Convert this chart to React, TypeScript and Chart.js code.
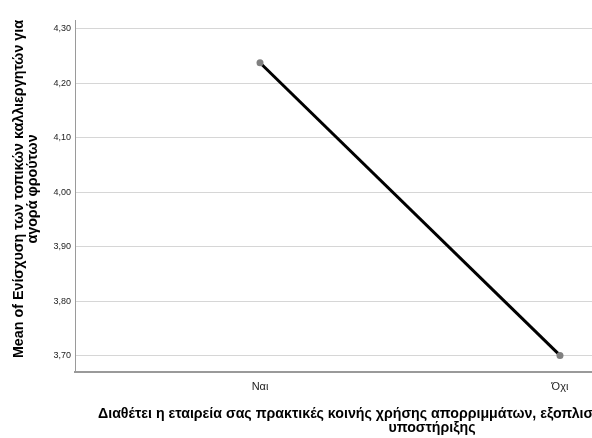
import React, { useEffect, useRef } from "react";
import { Chart, registerables } from "chart.js";

Chart.register(...registerables);

const categories = ["Ναι", "Όχι"];
const meanValues = [4.238, 3.701];
const yTickValues = [3.7, 3.8, 3.9, 4.0, 4.1, 4.2, 4.3];
const yTitleLines = ["Mean of Ενίσχυση των τοπικών καλλιεργητών για", "αγορά φρούτων"];
const xTitleLines = [
  "Διαθέτει η εταιρεία σας πρακτικές κοινής χρήσης απορριμμάτων, εξοπλισμού ή",
  "υποστήριξης",
];

const FONT = "Arial, 'Liberation Sans', sans-serif";

const titlesPlugin = {
  id: "axisTitles",
  afterDraw(chart: any) {
    const ctx = chart.ctx;
    ctx.save();
    ctx.fillStyle = "#000";
    ctx.textBaseline = "middle";
    // x-axis title
    ctx.font = `bold 14.2px ${FONT}`;
    ctx.textAlign = "left";
    ctx.fillText(xTitleLines[0], 98, 414);
    ctx.textAlign = "center";
    ctx.fillText(xTitleLines[1], 432, 428);
    // y-axis title (rotated)
    ctx.font = `bold 14.3px ${FONT}`;
    ctx.translate(0, 189);
    ctx.rotate(-Math.PI / 2);
    ctx.textAlign = "center";
    ctx.fillText(yTitleLines[0], 0, 19);
    ctx.fillText(yTitleLines[1], 0, 33);
    ctx.restore();
  },
};

export default function App() {
  const ref = useRef<HTMLCanvasElement>(null);
  useEffect(() => {
    if (!ref.current) return;
    const chart = new Chart(ref.current, {
      type: "line",
      data: {
        datasets: [
          {
            data: categories.map((c, i) => ({ x: i, y: meanValues[i] })),
            borderColor: "#000",
            borderWidth: 3,
            pointRadius: 3.5,
            pointBackgroundColor: "#808080",
            pointBorderWidth: 0,
            pointHoverRadius: 3.5,
            fill: false,
          },
        ],
      },
      options: {
        animation: false,
        responsive: false,
        devicePixelRatio: 1,
        layout: { autoPadding: false, padding: { top: 20, right: 0, left: 0, bottom: 0 } },
        plugins: { legend: { display: false }, tooltip: { enabled: false } },
        scales: {
          x: {
            type: "linear",
            min: -0.6167,
            max: 1.1067,
            afterBuildTicks: (s: any) => {
              s.ticks = categories.map((_, i) => ({ value: i }));
            },
            afterFit: (s: any) => {
              s.height = 66;
            },
            ticks: {
              callback: (v: any) => categories[v as number] ?? "",
              font: { family: FONT, size: 11 },
              color: "#222",
              padding: 8,
              maxRotation: 0,
            },
            grid: { display: false, drawTicks: false },
            border: { display: true, color: "#9a9a9a", width: 2 },
          },
          y: {
            type: "linear",
            min: 3.6706,
            max: 4.3165,
            afterBuildTicks: (s: any) => {
              s.ticks = yTickValues.map((v) => ({ value: v }));
            },
            afterFit: (s: any) => {
              s.width = 75;
            },
            ticks: {
              callback: (v: any) => Number(v).toFixed(2).replace(".", ","),
              font: { family: FONT, size: 9 },
              color: "#222",
              padding: 4,
            },
            grid: { color: "#d6d6d6", lineWidth: 1, drawTicks: false },
            border: { display: true, color: "#9a9a9a", width: 1 },
          },
        },
      },
      plugins: [titlesPlugin],
    });
    return () => chart.destroy();
  }, []);
  return (
    <div style={{ position: "fixed", left: 0, top: 0, width: 592, height: 438, background: "#fff" }}>
      <canvas ref={ref} width={592} height={438} style={{ width: 592, height: 438 }} />
    </div>
  );
}
